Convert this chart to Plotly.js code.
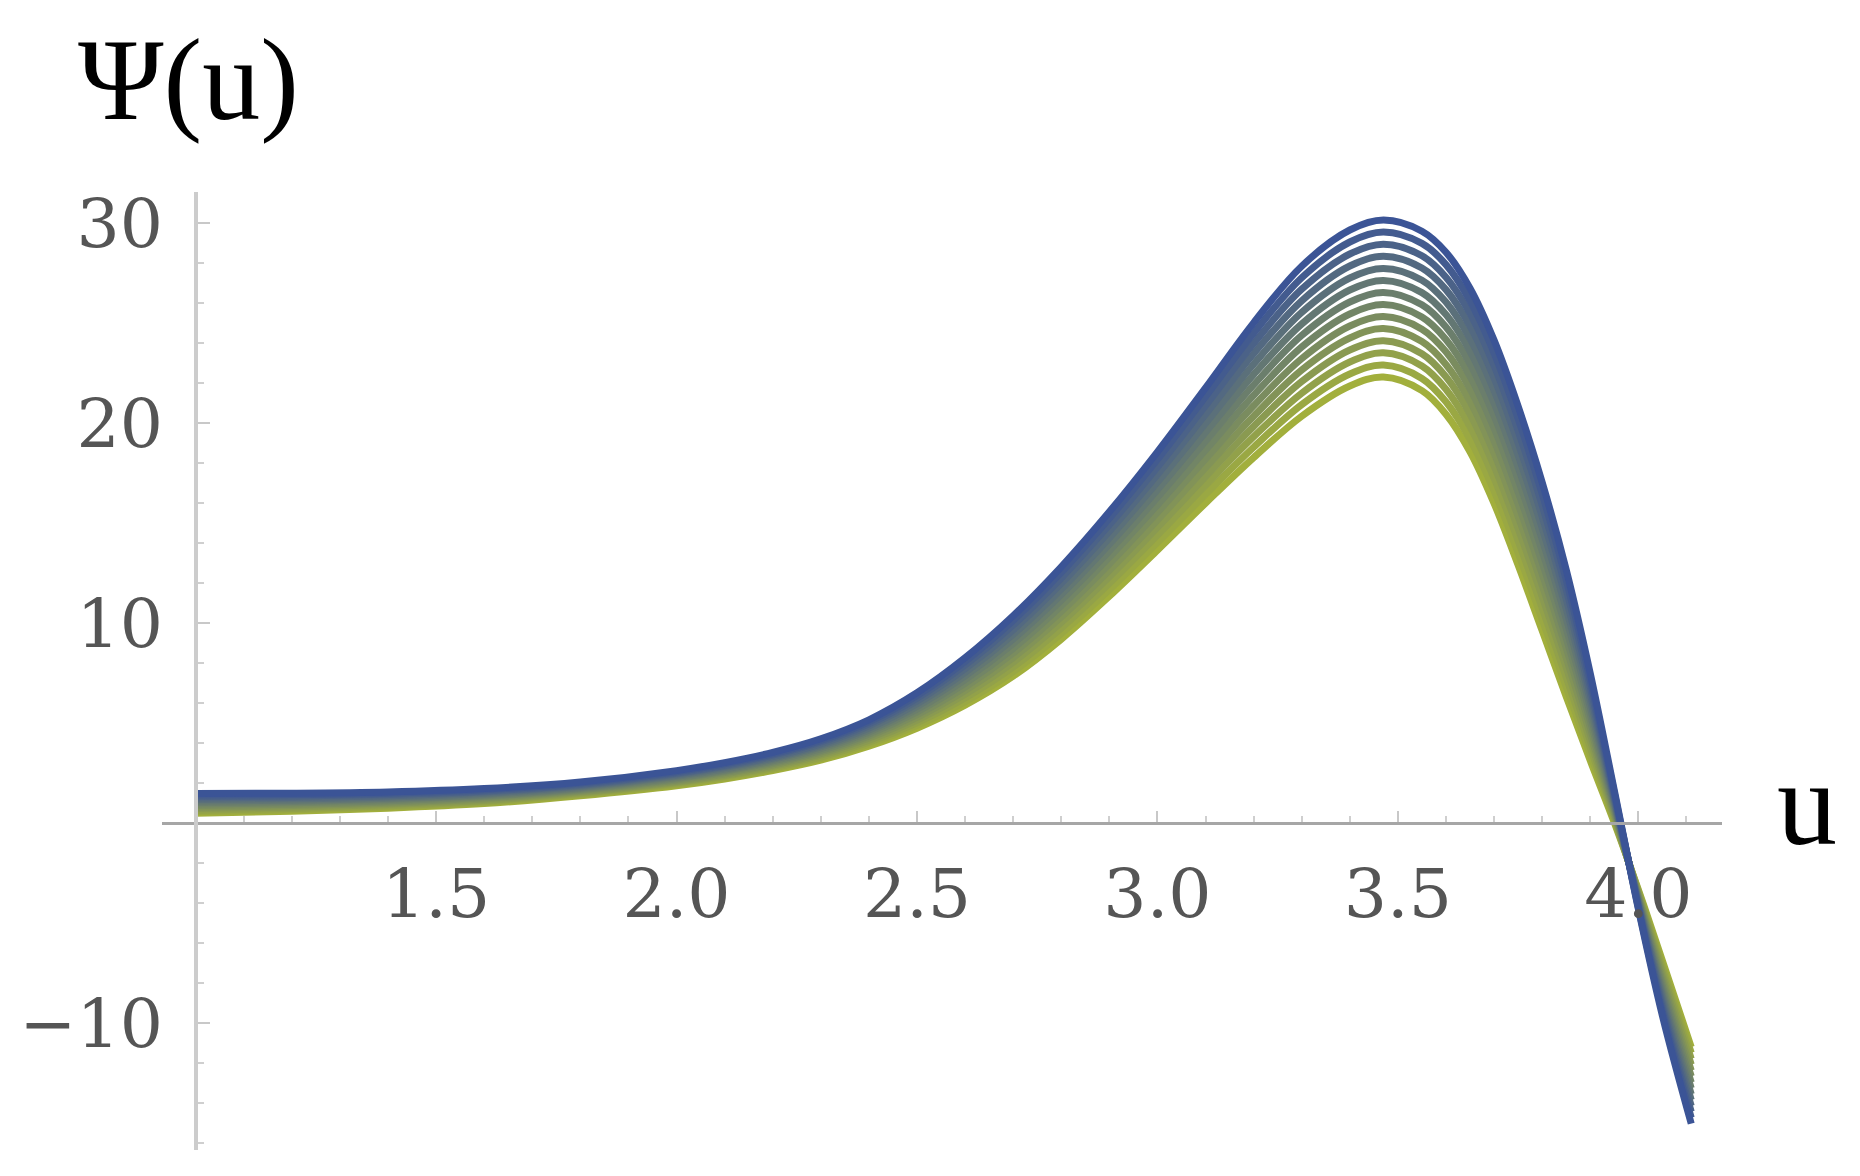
<!DOCTYPE html>
<html>
<head>
<meta charset="utf-8">
<script src="https://cdn.plot.ly/plotly-3.0.1.min.js"></script>
<style>html,body{margin:0;padding:0;background:#fff;}#chart{width:1860px;height:1176px;}</style>
</head>
<body>
<div id="chart"></div>
<script>
// u grid shared by all curves
const u = [1.0, 1.2, 1.4, 1.6, 1.8, 2.0, 2.1, 2.2, 2.3, 2.4, 2.5, 2.6, 2.7, 2.8, 2.9, 3.0, 3.1, 3.2, 3.3, 3.4, 3.47, 3.55, 3.6, 3.65, 3.7, 3.75, 3.8, 3.85, 3.9, 3.95, 4.0, 4.05, 4.11];

// Psi(u) curves, lowest peak (yellow-green) to highest peak (blue)
const psi00 = [0.49,0.59,0.74,0.97,1.36,1.86,2.20,2.62,3.14,3.84,4.74,5.89,7.34,9.19,11.34,13.64,15.99,18.27,20.34,21.85,22.30,21.62,20.44,18.56,15.98,12.90,9.62,6.32,3.12,0.02,-3.33,-6.88,-11.20];
const psi01 = [0.57,0.66,0.80,1.03,1.41,1.92,2.26,2.69,3.22,3.94,4.88,6.07,7.57,9.47,11.66,14.02,16.43,18.79,20.92,22.45,22.90,22.23,21.06,19.19,16.61,13.51,10.19,6.81,3.46,0.14,-3.40,-7.09,-11.49];
const psi02 = [0.64,0.73,0.86,1.09,1.47,1.98,2.33,2.76,3.30,4.04,5.01,6.25,7.80,9.75,11.99,14.40,16.88,19.31,21.49,23.05,23.51,22.85,21.69,19.82,17.24,14.12,10.76,7.30,3.79,0.27,-3.48,-7.30,-11.79];
const psi03 = [0.72,0.80,0.93,1.14,1.52,2.04,2.39,2.83,3.39,4.14,5.15,6.44,8.04,10.03,12.31,14.78,17.32,19.83,22.07,23.65,24.11,23.46,22.31,20.45,17.86,14.73,11.33,7.79,4.13,0.39,-3.55,-7.51,-12.08];
const psi04 = [0.79,0.87,0.99,1.20,1.57,2.09,2.45,2.90,3.47,4.25,5.28,6.62,8.27,10.30,12.64,15.15,17.77,20.34,22.65,24.25,24.72,24.07,22.93,21.08,18.49,15.34,11.90,8.27,4.46,0.52,-3.63,-7.73,-12.38];
const psi05 = [0.87,0.94,1.05,1.26,1.63,2.15,2.52,2.97,3.55,4.35,5.42,6.80,8.50,10.58,12.96,15.53,18.21,20.86,23.22,24.85,25.32,24.69,23.56,21.71,19.12,15.95,12.47,8.76,4.80,0.64,-3.70,-7.94,-12.67];
const psi06 = [0.95,1.01,1.11,1.32,1.68,2.21,2.58,3.04,3.63,4.45,5.56,6.98,8.73,10.86,13.29,15.91,18.65,21.38,23.80,25.45,25.92,25.30,24.18,22.34,19.75,16.56,13.04,9.25,5.14,0.77,-3.77,-8.15,-12.97];
const psi07 = [1.02,1.07,1.18,1.37,1.73,2.27,2.64,3.11,3.72,4.55,5.69,7.17,8.97,11.14,13.61,16.29,19.10,21.90,24.38,26.05,26.53,25.91,24.80,22.96,20.37,17.18,13.62,9.74,5.47,0.89,-3.85,-8.36,-13.26];
const psi08 = [1.10,1.14,1.24,1.43,1.78,2.33,2.70,3.18,3.80,4.65,5.83,7.35,9.20,11.42,13.94,16.67,19.54,22.42,24.95,26.65,27.13,26.52,25.42,23.59,21.00,17.79,14.19,10.23,5.81,1.02,-3.92,-8.57,-13.56];
const psi09 = [1.18,1.21,1.30,1.49,1.84,2.39,2.77,3.25,3.88,4.75,5.97,7.53,9.43,11.70,14.26,17.05,19.98,22.94,25.53,27.25,27.73,27.14,26.05,24.22,21.63,18.40,14.76,10.72,6.15,1.14,-3.99,-8.78,-13.85];
const psi10 = [1.25,1.28,1.36,1.55,1.89,2.45,2.83,3.32,3.96,4.86,6.10,7.71,9.66,11.98,14.59,17.43,20.43,23.46,26.11,27.85,28.34,27.75,26.67,24.85,22.26,19.01,15.33,11.21,6.48,1.27,-4.07,-8.99,-14.15];
const psi11 = [1.33,1.35,1.43,1.60,1.94,2.50,2.89,3.39,4.05,4.96,6.24,7.90,9.90,12.25,14.91,17.80,20.87,23.97,26.69,28.45,28.94,28.36,27.29,25.48,22.88,19.62,15.90,11.69,6.82,1.39,-4.14,-9.21,-14.44];
const psi12 = [1.40,1.42,1.49,1.66,2.00,2.56,2.96,3.46,4.13,5.06,6.37,8.08,10.13,12.53,15.24,18.18,21.32,24.49,27.26,29.05,29.55,28.98,27.92,26.11,23.51,20.23,16.47,12.18,7.15,1.52,-4.22,-9.42,-14.74];
const psi13 = [1.48,1.49,1.55,1.72,2.05,2.62,3.02,3.53,4.21,5.16,6.51,8.26,10.36,12.81,15.56,18.56,21.76,25.01,27.84,29.65,30.15,29.59,28.54,26.74,24.14,20.84,17.04,12.67,7.49,1.64,-4.29,-9.63,-15.03];

// tick labels
const xTickVals = [1.5, 2.0, 2.5, 3.0, 3.5, 4.0];
const xTickText = ['1.5', '2.0', '2.5', '3.0', '3.5', '4.0'];
const yTickVals = [-10, 10, 20, 30];
const yTickText = ['\u221210', '10', '20', '30'];

const curves = [psi00, psi01, psi02, psi03, psi04, psi05, psi06, psi07, psi08, psi09, psi10, psi11, psi12, psi13];
const palette = ['#a2af3c','#9aa843','#92a14a','#8a9a51','#829358','#7a8c5f','#728566',
                 '#6b7e6c','#637773','#5b707a','#536981','#4b6288','#435b8f','#3b5496'];

const xMinor = [];
for (let i = 10; i <= 41; i++) { if (i % 5 !== 0) xMinor.push(i / 10); }
const yMinor = [];
for (let v = -16; v <= 30; v += 2) { if (v % 10 !== 0) yMinor.push(v); }

const traces = curves.map((c, k) => ({
  x: u, y: c, type: 'scatter', mode: 'lines', hoverinfo: 'skip',
  line: {color: palette[k], width: 7, shape: 'spline', smoothing: 1.0, simplify: false}
}));

const xr = [0.930, 4.174];
const yr = [-16.35, 31.55];
const tickFont = {family: 'DejaVu Serif', size: 68, color: '#555555'};

const layout = {
  width: 1860, height: 1176,
  margin: {l: 162, r: 138, t: 192, b: 26, pad: 0},
  paper_bgcolor: '#ffffff', plot_bgcolor: '#ffffff',
  showlegend: false,
  title: {
    text: '\u03A8(u)',
    font: {family: 'Liberation Serif', size: 116, color: '#000000'},
    xref: 'container', yref: 'container',
    x: 78 / 1860, xanchor: 'left',
    y: 1 - 78 / 1176, yanchor: 'middle'
  },
  xaxis: {
    range: xr, anchor: 'free', position: (0 - yr[0]) / (yr[1] - yr[0]),
    showgrid: false, zeroline: false, automargin: false,
    showline: true, linecolor: '#a6a6a6', linewidth: 3,
    ticks: 'inside', ticklen: 11, tickwidth: 2, tickcolor: '#c8c8c8',
    tickmode: 'array', tickvals: xTickVals, ticktext: xTickText,
    tickfont: tickFont, ticklabelstandoff: 10,
    minor: {tickmode: 'array', tickvals: xMinor, ticks: 'inside', ticklen: 6, tickwidth: 2, tickcolor: '#cfcfcf', showgrid: false}
  },
  yaxis: {
    range: yr, anchor: 'free', position: (1 - xr[0]) / (xr[1] - xr[0]),
    showgrid: false, zeroline: false, automargin: false,
    showline: true, linecolor: '#cccccc', linewidth: 4,
    ticks: 'inside', ticklen: 12, tickwidth: 2, tickcolor: '#c8c8c8',
    tickmode: 'array', tickvals: yTickVals, ticktext: yTickText,
    tickfont: tickFont, ticklabelstandoff: 17,
    minor: {tickmode: 'array', tickvals: yMinor, ticks: 'inside', ticklen: 6, tickwidth: 2, tickcolor: '#cfcfcf', showgrid: false}
  },
  annotations: [{
    text: 'u', showarrow: false,
    xref: 'paper', yref: 'paper',
    x: (1775 - 162) / 1560, xanchor: 'left',
    y: (1150 - 803) / 958, yanchor: 'middle',
    font: {family: 'Liberation Serif', size: 120, color: '#000000'}
  }]
};

Plotly.newPlot('chart', traces, layout, {displayModeBar: false, staticPlot: true});
</script>
</body>
</html>
